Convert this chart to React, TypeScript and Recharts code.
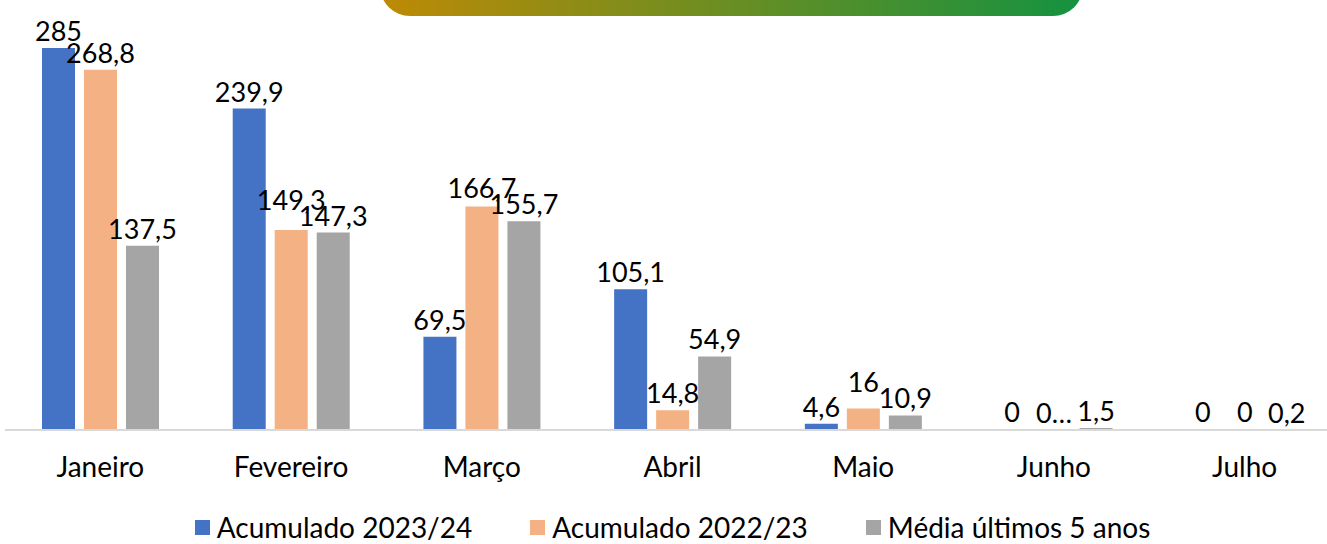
import React from 'react'
import { Bar, BarChart, Cell, LabelList, Legend, XAxis, YAxis } from 'recharts'

const months = ['Janeiro', 'Fevereiro', 'Março', 'Abril', 'Maio', 'Junho', 'Julho']
const acumulado2324 = [285, 239.9, 69.5, 105.1, 4.6, 0, 0]
const acumulado2223 = [268.8, 149.3, 166.7, 14.8, 16, 0.01, 0]
const media5anos = [137.5, 147.3, 155.7, 54.9, 10.9, 1.5, 0.2]

const series = [
  { key: 'a2324', name: 'Acumulado 2023/24', color: '#4472C4', values: acumulado2324 },
  { key: 'a2223', name: 'Acumulado 2022/23', color: '#F4B183', values: acumulado2223 },
  { key: 'm5', name: 'Média últimos 5 anos', color: '#A5A5A5', values: media5anos },
]

const data = months.map((month, i) => ({
  month,
  a2324: acumulado2324[i],
  a2223: acumulado2223[i],
  m5: media5anos[i],
}))

const font = 'Lato, "Open Sans", sans-serif'

const fmt = (v: any) => {
  const n = Number(v)
  if (n > 0 && n < 0.05) return '0…'
  return String(n).replace('.', ',')
}

// zero bars still need a rect so the label "0" gets drawn
const minSize = (v: any) => (Number(v) === 0 ? 1 : 0)

// label above the bar; lifted when it would collide with the next series' label (like Excel does)
const makeLabel = (si: number) => (props: any) => {
  const { x, y, width, height, index } = props
  const val = series[si].values[index]
  const text = fmt(val)
  let base = Number(y) - 7
  const next = series[si + 1]
  if (next && val > 0) {
    const nv = next.values[index]
    const k = Number(height) / val
    const dy = (val - nv) * k
    const w1 = text.length * 13.5
    const w2 = fmt(nv).length * 13.5
    if (dy >= 0 && dy < 17 && (w1 + w2) / 2 > 40) {
      base = Math.min(base, Number(y) + dy - 7 - 16)
    }
  }
  return (
    <text x={Number(x) + Number(width) / 2} y={base} textAnchor='middle' fill='#000' fontSize={27} fontFamily={font}>
      {text}
    </text>
  )
}

function LegendBox() {
  return (
    <div style={{ display: 'flex', justifyContent: 'center', gap: 58, fontFamily: font, fontSize: 28, color: '#000', paddingTop: 10 }}>
      {series.map(s => (
        <div key={s.key} style={{ display: 'flex', alignItems: 'center' }}>
          <span style={{ width: 15, height: 15, background: s.color, display: 'inline-block', marginRight: 7 }} />
          <span>{s.name}</span>
        </div>
      ))}
    </div>
  )
}

export default function App() {
  return (
    <div style={{ position: 'absolute', left: 0, top: 0, width: 1327, height: 544, overflow: 'hidden', background: '#fff' }}>
      <div
        style={{
          position: 'absolute',
          left: 380,
          top: -44,
          width: 703,
          height: 60,
          borderRadius: 30,
          background: 'linear-gradient(90deg, #BE8A05, #149241)',
        }}
      />
      <BarChart
        width={1340}
        height={544}
        data={data}
        margin={{ top: 28, right: 0, left: 5, bottom: 0 }}
        barSize={33}
        barGap={9}
      >
        <XAxis
          dataKey='month'
          height={70}
          tickLine={false}
          tickMargin={21}
          axisLine={{ stroke: '#D9D9D9', strokeWidth: 2 }}
          tick={{ fill: '#000', fontSize: 28, fontFamily: font }}
        />
        <YAxis hide domain={[0, 300]} />
        <Legend verticalAlign='bottom' height={44} content={<LegendBox />} />
        {series.map((s, si) => (
          <Bar key={s.key} dataKey={s.key} name={s.name} fill={s.color} minPointSize={minSize} isAnimationActive={false}>
            {s.values.map((v, i) => (
              <Cell key={i} fill={s.color} fillOpacity={v === 0 ? 0 : 1} />
            ))}
            <LabelList dataKey={s.key} content={makeLabel(si)} />
          </Bar>
        ))}
      </BarChart>
    </div>
  )
}
